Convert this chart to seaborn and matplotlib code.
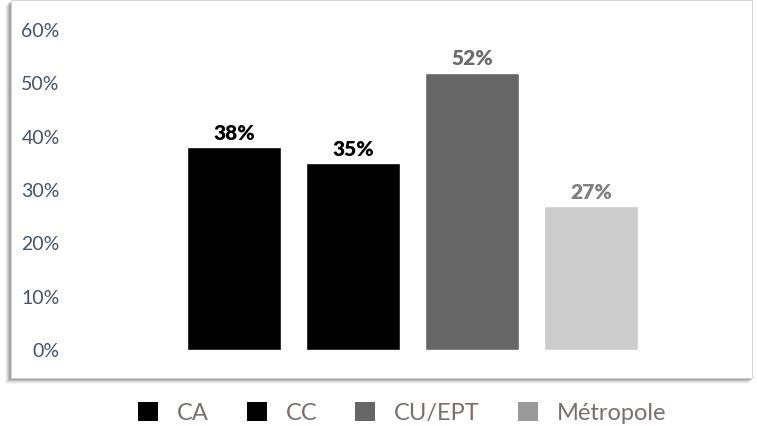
import matplotlib
matplotlib.use("Agg")
import matplotlib.pyplot as plt
import pandas as pd
import seaborn as sns
from matplotlib.patches import Rectangle, Patch

categories = ["CA", "CC", "CU/EPT", "Métropole"]
values = [0.38, 0.35, 0.52, 0.27]
bar_colors = ["#000000", "#000000", "#666666", "#cccccc"]
label_colors = ["#000000", "#000000", "#6b6b6b", "#7f7f7f"]
legend_colors = ["#000000", "#000000", "#666666", "#999999"]
yticks = [0, 0.1, 0.2, 0.3, 0.4, 0.5, 0.6]

W, H = 757, 426
sns.set_theme(style="white")
plt.rcParams["font.family"] = ["Lato", "DejaVu Sans"]

fig = plt.figure(figsize=(W / 100, H / 100), dpi=100)
fig.patch.set_facecolor("white")

# panel with soft shadow (left/bottom)
px0, px1, py_top, py_bot = 11, 752, 0, 378
for i, a in enumerate([0.05, 0.08, 0.12, 0.18, 0.25]):
    off = 6 - i
    fig.patches.append(Rectangle(((px0 - off) / W, (H - py_bot - off) / H),
                                 (px1 - px0 + 2) / W, (py_bot - py_top) / H,
                                 transform=fig.transFigure, facecolor="#555555",
                                 alpha=a, edgecolor="none", zorder=0))
fig.patches.append(Rectangle((px0 / W, (H - py_bot) / H), (px1 - px0) / W,
                             (py_bot - py_top) / H, transform=fig.transFigure,
                             facecolor="white", edgecolor="#d0d0d0", lw=0.6, zorder=1))

ax_left, ax_right = 75, 745
y0_px, y60_px = 350, 30
ax = fig.add_axes([ax_left / W, (H - y0_px) / H, (ax_right - ax_left) / W,
                   (y0_px - y60_px) / H])
ax.set_zorder(2)
ax.patch.set_alpha(0)

df = pd.DataFrame({"cat": categories, "val": values})
sns.barplot(data=df, x="cat", y="val", hue="cat", palette=bar_colors,
            order=categories, hue_order=categories, width=0.79,
            saturation=1, legend=False, ax=ax)

for i, (v, c) in enumerate(zip(values, label_colors)):
    ax.text(i, v + 0.008, f"{round(v * 100)}%", ha="center", va="bottom",
            fontsize=15, fontweight="heavy", color=c)

spacing = 119
ax.set_xlim(-(234 - ax_left) / spacing, 3 + (ax_right - 591) / spacing)
ax.set_ylim(0, 0.6)
ax.set_yticks(yticks)
ax.set_yticklabels([f"{round(t * 100)}%" for t in yticks], fontsize=14,
                   color="#44546a")
ax.set_xticks([])
ax.set_xlabel("")
ax.set_ylabel("")
ax.tick_params(axis="y", length=0, pad=11)
for s in ax.spines.values():
    s.set_visible(False)

handles = [Patch(facecolor=c, edgecolor="none", label=l)
           for c, l in zip(legend_colors, categories)]
fig.legend(handles=handles, loc="center", bbox_to_anchor=(402 / W, (H - 413) / H),
           ncol=4, frameon=False, fontsize=17, handlelength=0.85, handleheight=0.85,
           columnspacing=1.6, handletextpad=0.8, labelcolor="#7a6f6c")

fig.savefig("out.png", dpi=100)
